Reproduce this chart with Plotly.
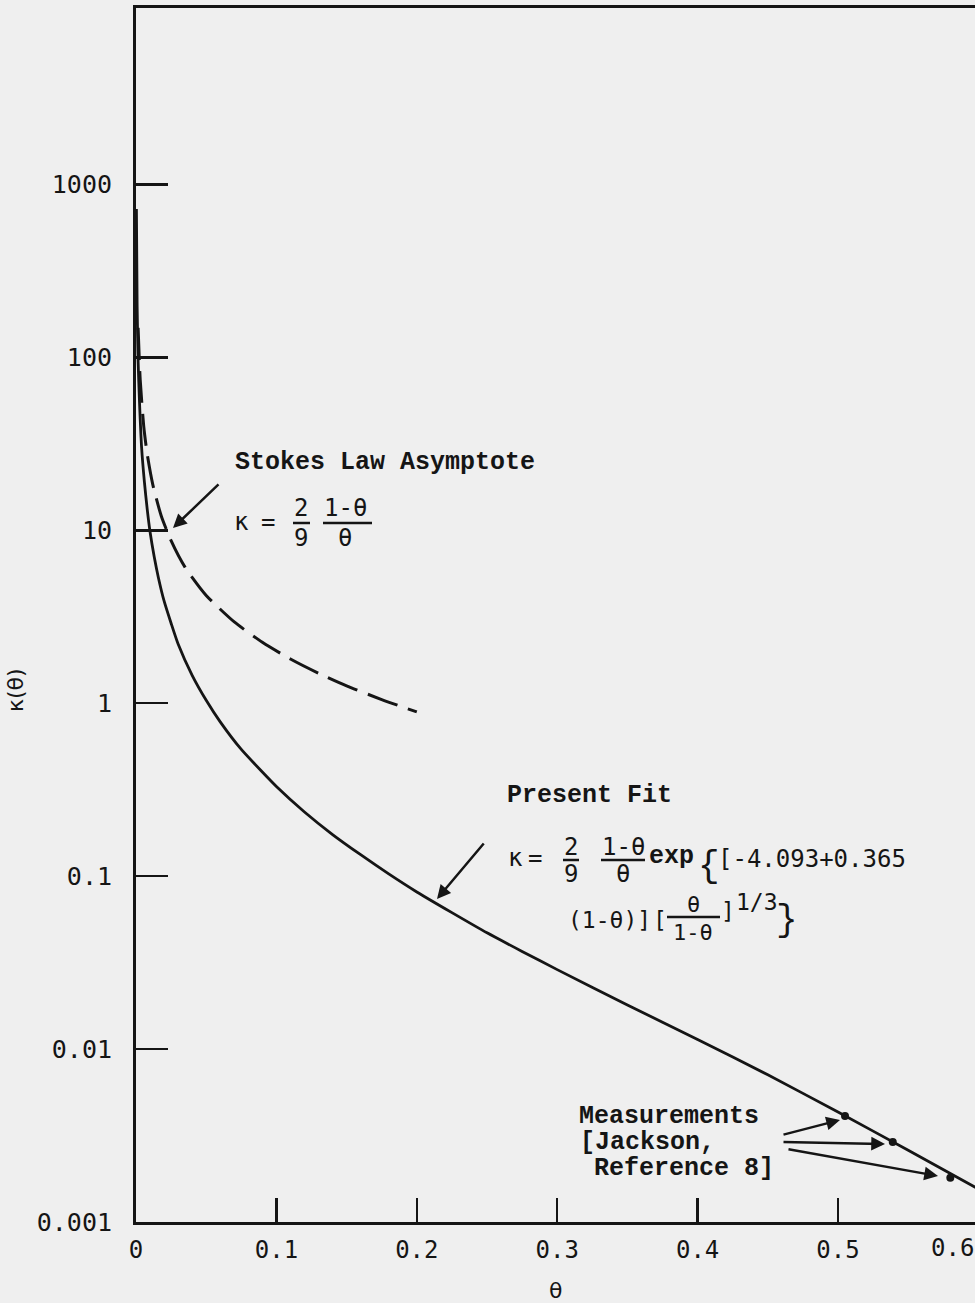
import plotly.graph_objects as go

# ---------------- data ----------------
theta_fit = [0.0003, 0.0008, 0.0015, 0.0025, 0.004, 0.006, 0.008, 0.01, 0.013, 0.016,
             0.02, 0.025, 0.03, 0.04, 0.05, 0.06, 0.075, 0.09, 0.1, 0.12,
             0.14, 0.16, 0.18, 0.2, 0.225, 0.25, 0.275, 0.3, 0.35, 0.4,
             0.45, 0.5, 0.55, 0.6]
kappa_fit = [720, 200, 95, 55, 30, 19, 13.2, 9.8, 7.0, 5.3,
             3.9, 2.9, 2.2, 1.45, 1.04, 0.78, 0.54, 0.40, 0.33, 0.235,
             0.174, 0.133, 0.103, 0.081, 0.0615, 0.047, 0.0367, 0.0288, 0.018, 0.01135,
             0.0071, 0.00432, 0.0026, 0.00155]

theta_stokes = [0.0015, 0.003, 0.0055, 0.008, 0.012, 0.018, 0.025, 0.035, 0.05, 0.07,
                0.09, 0.11, 0.13, 0.15, 0.175, 0.2]
kappa_stokes = [148, 74, 40, 27.5, 18.3, 12.1, 8.7, 6.1, 4.2, 2.95,
                2.25, 1.8, 1.49, 1.26, 1.05, 0.89]

theta_meas = [0.505, 0.539, 0.580]
kappa_meas = [0.0041, 0.0029, 0.0018]

y_tick_vals = [0.001, 0.01, 0.1, 1, 10, 100, 1000]
y_tick_text = ["0.001", "0.01", "0.1", "1", "10", "100", "1000"]
x_tick_vals = [0, 0.1, 0.2, 0.3, 0.4, 0.5]
x_tick_text = ["0", "0.1", "0.2", "0.3", "0.4", "0.5"]

# ---------------- style ----------------
W, H = 975, 1303
L, R, T, B = 136, 0, 8, 81
BG = "#efefef"
INK = "#151515"
SERIF = "Liberation Mono"
SANS = "DejaVu Sans Mono"


def px(x):
    return (x - L) / (W - L - R)


def py(y):
    return (H - B - y) / (H - T - B)


annotations = []
shapes = []


def txt(x, y, s, size=24, family=SANS, xanchor="left", yanchor="middle", angle=0,
        weight="normal"):
    annotations.append(dict(
        x=px(x), y=py(y), xref="paper", yref="paper", text=s, showarrow=False,
        xanchor=xanchor, yanchor=yanchor, textangle=angle,
        font=dict(family=family, size=size, color=INK, weight=weight)))


def bar(x0, x1, y, w=2.5):
    shapes.append(dict(type="line", xref="paper", yref="paper",
                       x0=px(x0), x1=px(x1), y0=py(y), y1=py(y),
                       line=dict(color=INK, width=w)))


def arrow(tx, ty, hx, hy):
    annotations.append(dict(
        x=px(hx), y=py(hy), xref="paper", yref="paper", text="",
        showarrow=True, ax=tx - hx, ay=ty - hy, axref="pixel", ayref="pixel",
        arrowhead=2, arrowsize=1.1, arrowwidth=2.5, arrowcolor=INK))


fig = go.Figure()
fig.add_trace(go.Scatter(x=theta_fit, y=kappa_fit, mode="lines",
                         line=dict(color=INK, width=2.8, shape="spline", smoothing=0.6),
                         showlegend=False, hoverinfo="skip"))
fig.add_trace(go.Scatter(x=theta_stokes, y=kappa_stokes, mode="lines",
                         line=dict(color=INK, width=3, dash="32px,11px",
                                   shape="spline", smoothing=0.6),
                         showlegend=False, hoverinfo="skip"))
fig.add_trace(go.Scatter(x=theta_meas, y=kappa_meas, mode="markers",
                         marker=dict(color=INK, size=8),
                         showlegend=False, hoverinfo="skip"))

# Stokes annotation block
txt(233, 462, "Stokes Law Asymptote", 25, SERIF, weight="bold")
txt(232, 522, "κ", 24, SANS)
txt(268, 522, "=", 24, SANS, "center")
txt(301, 508, "2", 24, SANS, "center")
bar(293, 310, 523)
txt(301, 538, "9", 24, SANS, "center")
txt(345, 508, "1-θ", 24, SANS, "center")
bar(323, 372, 523)
txt(345, 538, "θ", 24, SANS, "center")
arrow(220, 483, 173, 528)

# Present Fit annotation block
txt(505, 795, "Present Fit", 25, SERIF, weight="bold")
txt(506, 858, "κ", 24, SANS)
txt(535, 858, "=", 24, SANS, "center")
txt(571, 847, "2", 24, SANS, "center")
bar(563, 579, 860)
txt(571, 874, "9", 24, SANS, "center")
txt(623, 847, "1-θ", 24, SANS, "center")
bar(601, 645, 860)
txt(623, 874, "θ", 24, SANS, "center")
txt(647, 856, "exp", 25, SERIF, weight="bold")
txt(709, 866, "{", 36, SERIF, "center")
txt(716, 859, "[-4.093+0.365", 24, SANS)
txt(566, 920, "(1-θ)]", 23, SANS)
txt(651, 920, "[", 23, SANS)
txt(693, 904, "θ", 22, SANS, "center")
bar(667, 720, 917)
txt(693, 932, "1-θ", 22, SANS, "center")
txt(719, 911, "]", 23, SANS)
txt(734, 902, "1/3", 23, SANS)
txt(787, 920, "}", 36, SERIF, "center")
arrow(485, 842, 437, 899)

# Measurements annotation block
txt(577, 1116, "Measurements", 25, SERIF, weight="bold")
txt(578, 1142, "[Jackson,", 25, SERIF, weight="bold")
txt(592, 1168, "Reference 8]", 25, SERIF, weight="bold")
arrow(782, 1135, 840, 1120)
arrow(782, 1142, 885, 1144)
arrow(787, 1149, 938, 1176)

# axis titles and the cut-off last tick label
txt(16, 690, "κ(θ)", 22, "DejaVu Sans", "center", "middle", -90)
txt(555, 1290, "θ", 22, "DejaVu Sans", "center")
txt(952, 1248, "0.6", 24, SANS, "center")

fig.update_layout(
    width=W, height=H,
    margin=dict(l=L, r=R, t=T, b=B),
    paper_bgcolor=BG, plot_bgcolor=BG,
    annotations=annotations, shapes=shapes,
    showlegend=False,
)
fig.update_xaxes(
    range=[0, (W - L - R) / 1404], showgrid=False, zeroline=False,
    showline=True, linecolor=INK, linewidth=3, mirror=True,
    ticks="inside", ticklen=24, tickwidth=2.5, tickcolor=INK,
    tickvals=x_tick_vals, ticktext=x_tick_text, ticklabelstandoff=4,
    tickfont=dict(family=SANS, size=24, color=INK),
)
fig.update_yaxes(
    type="log", range=[-3, 4.02], showgrid=False, zeroline=False,
    showline=True, linecolor=INK, linewidth=3, mirror=False,
    ticks="inside", ticklen=32, tickwidth=2.5, tickcolor=INK,
    tickvals=y_tick_vals, ticktext=y_tick_text, ticklabelstandoff=16,
    tickfont=dict(family=SANS, size=25, color=INK),
)

fig.write_html(
    "out.html",
    config={"displayModeBar": False, "staticPlot": True},
    post_script="document.body.style.margin='0px';"
                "document.body.style.background='#efefef';"
                "document.body.style.overflow='hidden';",
)
